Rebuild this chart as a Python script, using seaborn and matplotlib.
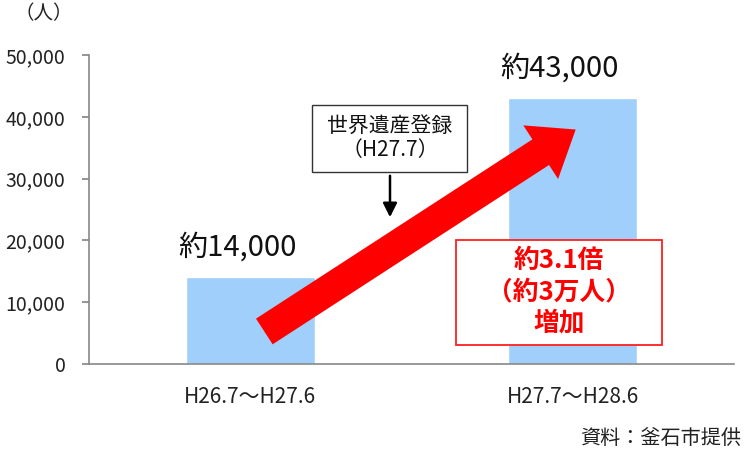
import matplotlib
matplotlib.use("Agg")
import matplotlib.pyplot as plt
import seaborn as sns
import pandas as pd
from matplotlib.patches import FancyArrowPatch, Rectangle

categories = ["H26.7～H27.6", "H27.7～H28.6"]
visitors = [14000, 43000]
bar_labels = ["約14,000", "約43,000"]
yticks = [0, 10000, 20000, 30000, 40000, 50000]

sns.set_theme(style="white")
plt.rcParams['font.family'] = ['Noto Sans CJK JP', 'DejaVu Sans']

df = pd.DataFrame({"period": categories, "visitors": visitors})

fig = plt.figure(figsize=(7.49, 4.55), dpi=100)
ax = fig.add_axes([89/749, 1 - 364/455, (734 - 89)/749, (364 - 55)/455])

sns.barplot(data=df, x="period", y="visitors", color="#9fcffa", saturation=1,
            width=0.4, ax=ax)

ax.set_xlim(-0.5, 1.5)
ax.set_ylim(0, 50000)
ax.set_yticks(yticks)
ax.set_yticklabels([f"{v:,}" for v in yticks], fontsize=14, color="#222222")
ax.set_xlabel("")
ax.set_ylabel("")
ax.tick_params(axis="x", length=0, labelsize=15, pad=16, labelcolor="#222222")
ax.set_xticks([-0.5, 0.5, 1.5], minor=True)
ax.tick_params(axis="x", which="minor", length=5, color="#888888", direction="out")
ax.tick_params(axis="y", length=5, color="#888888", direction="out", left=True, pad=12)
for s in ["top", "right"]:
    ax.spines[s].set_visible(False)
for s in ["left", "bottom"]:
    ax.spines[s].set_color("#888888")
    ax.spines[s].set_linewidth(1.2)

for i, (v, lab) in enumerate(zip(visitors, bar_labels)):
    ax.text(i - 0.04, v + 2400, lab, ha="center", va="bottom", fontsize=21, color="#111111")

def px2data(px, py):
    return ((px - 89) / 322.5 - 0.5, (364 - py) / 309 * 50000)

def add_box(x0, y0, x1, y1, ec, lw):
    (dx0, dy1), (dx1, dy0) = px2data(x0, y0), px2data(x1, y1)
    ax.add_patch(Rectangle((dx0, dy0), dx1 - dx0, dy1 - dy0, fc="white", ec=ec,
                           lw=lw, zorder=6))

# big red arrow
arrow = FancyArrowPatch(px2data(262, 333), px2data(578, 128),
                        arrowstyle="simple,head_width=46,head_length=30,tail_width=22",
                        mutation_scale=1, color="#ff0000", lw=0, zorder=5)
ax.add_patch(arrow)

# registration box with small arrow
add_box(312, 105, 467, 172, "#333333", 1)
bx, by = px2data(390, 138)
ax.text(bx, by, "世界遺産登録\n（H27.7）", ha="center", va="center", fontsize=15,
        color="#111111", linespacing=1.15, zorder=7)
ax.annotate("", xy=px2data(390, 220), xytext=px2data(390, 173),
            arrowprops=dict(arrowstyle="-|>,head_width=0.35,head_length=0.7",
                            color="black", lw=1.8), zorder=7)

# red result box
add_box(456, 240, 662, 345, "#ff2020", 1.3)
rx, ry = px2data(559, 292)
ax.text(rx, ry, "約3.1倍\n（約3万人）\n増加", ha="center", va="center", fontsize=18.5,
        color="#ff0000", fontweight="bold", linespacing=1.2, zorder=7)

fig.text(14/749, 1 - 14/455, "（人）", ha="left", va="center", fontsize=14, color="#222222")
fig.text(741/749, 1 - 438/455, "資料：釜石市提供", ha="right", va="center", fontsize=14.5,
         color="#222222")

fig.savefig("out.png", dpi=100)
